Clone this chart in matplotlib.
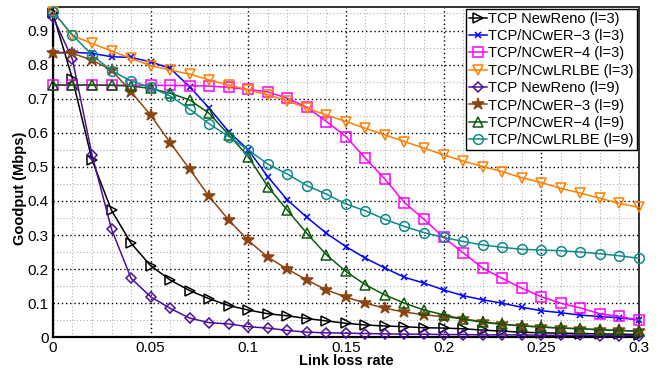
import numpy as np
import matplotlib
matplotlib.use("Agg")
import matplotlib.pyplot as plt
from matplotlib.ticker import MultipleLocator

plt.rcParams['font.family'] = ['Liberation Sans', 'DejaVu Sans']

loss_rate = [round(0.01 * i, 2) for i in range(31)]

newreno_l3 = [0.95, 0.758, 0.52, 0.372, 0.276, 0.21, 0.168, 0.137, 0.113, 0.093,
              0.080, 0.069, 0.063, 0.055, 0.048, 0.041, 0.036, 0.033, 0.031, 0.028,
              0.027, 0.025, 0.021, 0.018, 0.015, 0.013, 0.012, 0.011, 0.010, 0.009, 0.008]
ncwer3_l3 = [0.835, 0.836, 0.833, 0.823, 0.821, 0.808, 0.789, 0.735, 0.672, 0.603,
             0.55, 0.471, 0.403, 0.352, 0.305, 0.266, 0.232, 0.203, 0.176, 0.159,
             0.139, 0.122, 0.110, 0.100, 0.088, 0.078, 0.072, 0.065, 0.061, 0.057, 0.051]
ncwer4_l3 = [0.74, 0.74, 0.74, 0.74, 0.739, 0.739, 0.739, 0.738, 0.737, 0.733,
             0.727, 0.72, 0.701, 0.675, 0.633, 0.589, 0.525, 0.464, 0.395, 0.346,
             0.293, 0.248, 0.203, 0.173, 0.144, 0.119, 0.100, 0.086, 0.069, 0.061, 0.051]
ncwlrlbe_l3 = [0.955, 0.885, 0.862, 0.84, 0.818, 0.797, 0.784, 0.772, 0.755, 0.74,
               0.726, 0.711, 0.694, 0.672, 0.652, 0.633, 0.613, 0.594, 0.574, 0.555,
               0.535, 0.517, 0.501, 0.486, 0.468, 0.454, 0.437, 0.423, 0.408, 0.393, 0.381]
newreno_l9 = [0.94, 0.815, 0.535, 0.317, 0.173, 0.119, 0.085, 0.056, 0.043, 0.039,
              0.031, 0.027, 0.020, 0.015, 0.013, 0.012, 0.011, 0.010, 0.009, 0.009,
              0.008, 0.008, 0.007, 0.007, 0.007, 0.006, 0.006, 0.006, 0.005, 0.005, 0.005]
ncwer3_l9 = [0.835, 0.833, 0.813, 0.784, 0.72, 0.652, 0.571, 0.493, 0.413, 0.344,
             0.284, 0.235, 0.200, 0.168, 0.139, 0.118, 0.100, 0.085, 0.074, 0.066,
             0.060, 0.054, 0.046, 0.038, 0.033, 0.030, 0.027, 0.025, 0.022, 0.020, 0.018]
ncwer4_l9 = [0.74, 0.74, 0.74, 0.739, 0.737, 0.730, 0.716, 0.696, 0.657, 0.594,
             0.53, 0.442, 0.373, 0.305, 0.242, 0.193, 0.154, 0.124, 0.100, 0.080,
             0.066, 0.053, 0.044, 0.038, 0.034, 0.030, 0.027, 0.025, 0.022, 0.020, 0.018]
ncwlrlbe_l9 = [0.955, 0.887, 0.828, 0.782, 0.752, 0.733, 0.708, 0.669, 0.626, 0.589,
               0.55, 0.508, 0.479, 0.445, 0.42, 0.391, 0.371, 0.346, 0.325, 0.307,
               0.293, 0.281, 0.271, 0.264, 0.258, 0.256, 0.254, 0.25, 0.245, 0.239, 0.232]

series = [
    ("TCP NewReno (l=3)", newreno_l3, "black", ">", "none"),
    ("TCP/NCwER\u22123 (l=3)", ncwer3_l3, "#0000ff", "x", "none"),
    ("TCP/NCwER\u22124 (l=3)", ncwer4_l3, "#ff00ff", "s", "none"),
    ("TCP/NCwLRLBE (l=3)", ncwlrlbe_l3, "#ff8000", "v", "none"),
    ("TCP NewReno (l=9)", newreno_l9, "#4b0f9a", "D", "none"),
    ("TCP/NCwER\u22123 (l=9)", ncwer3_l9, "#8b4513", "*", "#8b4513"),
    ("TCP/NCwER\u22124 (l=9)", ncwer4_l9, "#0b5a0b", "^", "none"),
    ("TCP/NCwLRLBE (l=9)", ncwlrlbe_l9, "#0f8a8a", "o", "none"),
]

fig = plt.figure(figsize=(6.62, 3.69), dpi=100)
ax = fig.add_axes([0.080, 0.086, 0.885, 0.896])

for label, vals, color, marker, mfc in series:
    ms = 7
    if marker == "D":
        ms = 5.5
    if marker == "*":
        ms = 9
    if marker == "x":
        ms = 5
    ax.plot(loss_rate, vals, color=color, marker=marker, markersize=ms,
            markerfacecolor=mfc, markeredgecolor=color, linewidth=1.1,
            markeredgewidth=1.1, label=label, clip_on=False, zorder=3)

ax.set_xlim(0, 0.3)
ax.set_ylim(0, 0.97)
ax.xaxis.set_minor_locator(MultipleLocator(0.01))
ax.yaxis.set_minor_locator(MultipleLocator(0.05))
ax.set_xticks([0, 0.05, 0.1, 0.15, 0.2, 0.25, 0.3])
ax.set_xticklabels(["0", "0.05", "0.1", "0.15", "0.2", "0.25", "0.3"])
ax.set_yticks([0, 0.1, 0.2, 0.3, 0.4, 0.5, 0.6, 0.7, 0.8, 0.9])
ax.set_yticklabels(["0", "0.1", "0.2", "0.3", "0.4", "0.5", "0.6", "0.7", "0.8", "0.9"])

ax.grid(which="major", color="black", linestyle=(0, (1, 2)), linewidth=1.0, zorder=0)
ax.grid(which="minor", color="#b0b0b0", linestyle=(0, (1, 2)), linewidth=0.8, zorder=0)
ax.set_axisbelow(True)

ax.tick_params(which="both", direction="in", length=0, labelsize=11)
ax.tick_params(axis="x", pad=3)
ax.tick_params(axis="y", pad=3)
for s in ["left", "bottom"]:
    ax.spines[s].set_linewidth(1.6)
    ax.spines[s].set_color("black")
for s in ["top", "right"]:
    ax.spines[s].set_linewidth(1.4)
    ax.spines[s].set_color("#333333")

ax.set_xlabel("Link loss rate", fontsize=10.5, fontweight="bold", labelpad=-1)
ax.set_ylabel("Goodput (Mbps)", fontsize=10.5, fontweight="bold")
ax.yaxis.set_label_coords(-0.045, 0.452)

leg = ax.legend(loc="upper right", fontsize=10.5, handlelength=1.2, handletextpad=0.1,
                borderpad=0.2, labelspacing=0.23, borderaxespad=0.15,
                fancybox=False, framealpha=1, edgecolor="black")
leg.get_frame().set_linewidth(1.0)

fig.savefig("out.png", dpi=100)
